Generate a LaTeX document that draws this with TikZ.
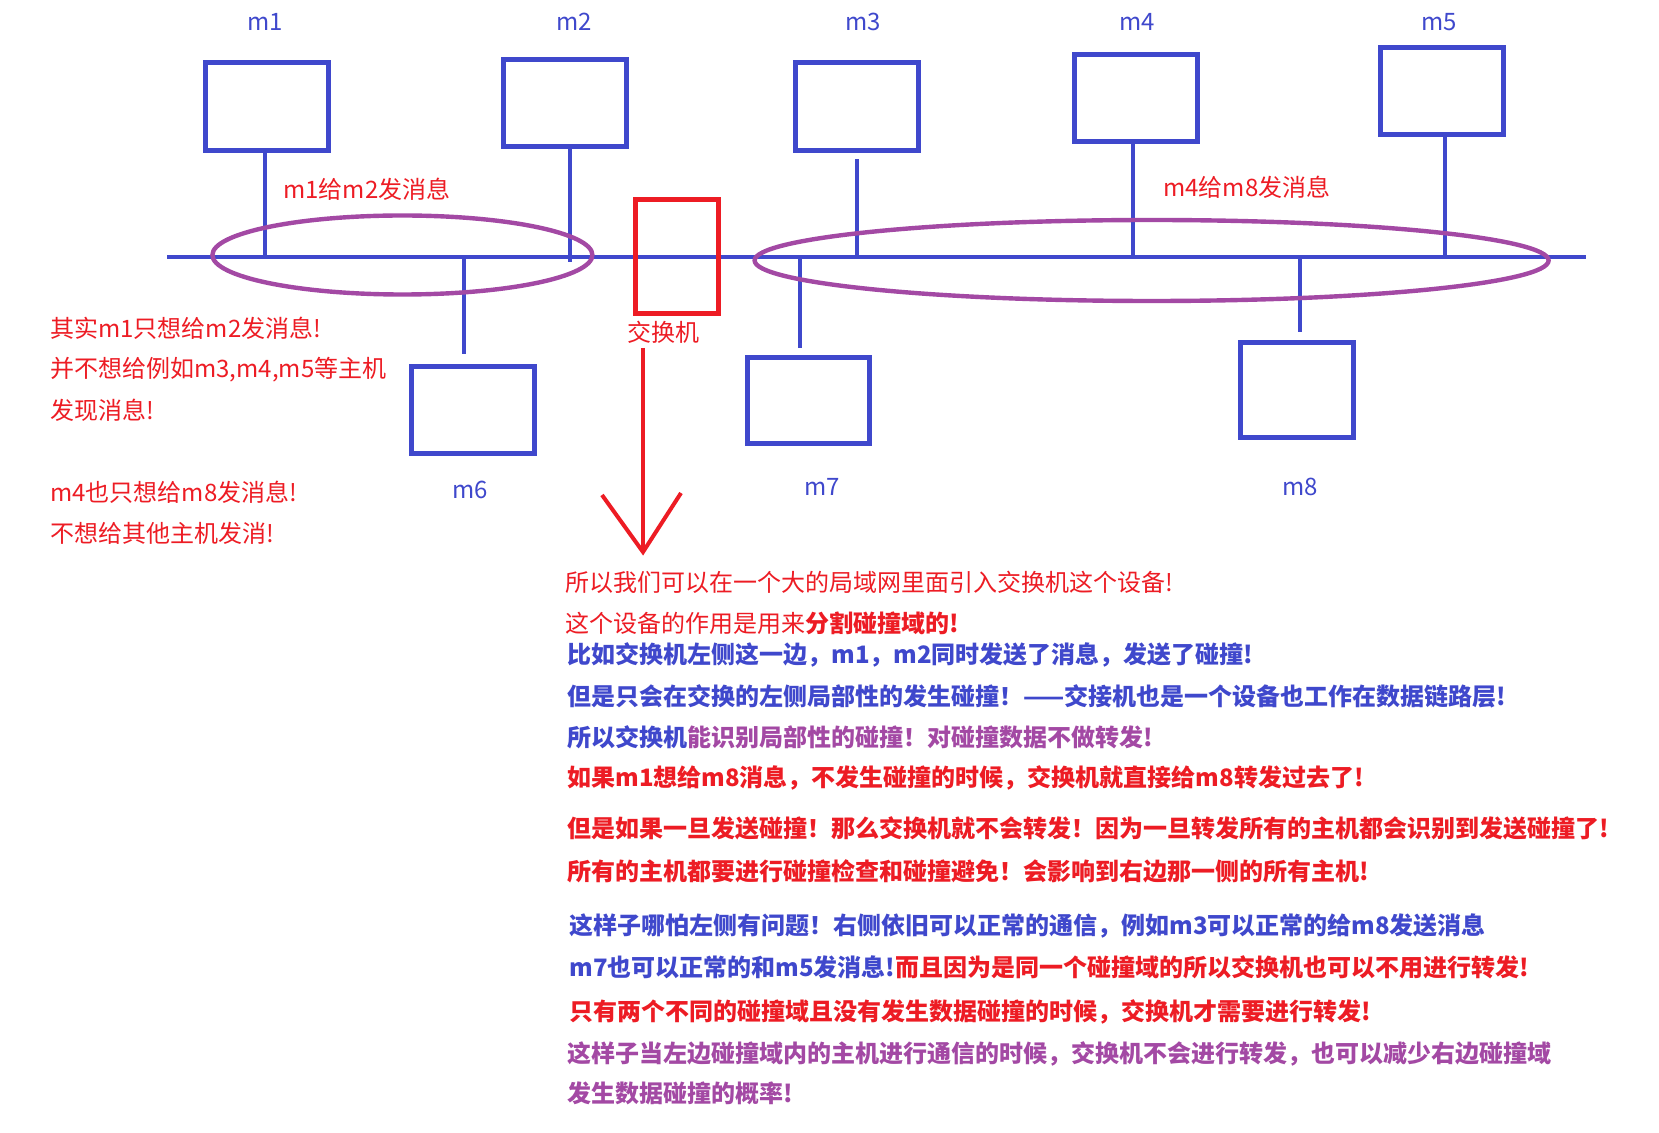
\documentclass[tikz,border=0pt]{standalone}
\usepackage{fontspec}
\setmainfont{Noto Sans CJK SC}
\usetikzlibrary{calc}
\definecolor{pblue}{HTML}{3F48CC}
\definecolor{pred}{HTML}{ED1C24}
\definecolor{ppurple}{HTML}{A349A4}
\begin{document}
\begin{tikzpicture}[x=0.5pt,y=-0.5pt,
  host/.style={draw=pblue,line width=2.5pt,minimum width=61.5pt,minimum height=44pt,inner sep=0pt},
  wire/.style={pblue,line width=2pt},
  busline/.style={pblue,line width=2.35pt},
  dom/.style={ppurple,line width=2.2pt},
  txt/.style={inner sep=0pt,font=\fontsize{12}{14.4}\selectfont,text height=10.6pt,text depth=1.4pt},
  lbl/.style={txt,text=pblue},
  tline/.style={txt,anchor=west},
  bline/.style={txt,anchor=west,font=\fontsize{12}{14.4}\selectfont\bfseries}]
\useasboundingbox (0,0) rectangle (1659,1133);
\fill[white] (0,0) rectangle (1659,1133);

% bus
\coordinate (busL) at (167,257);
\coordinate (busR) at (1586,257);
\draw[busline] (busL) -- (busR);

% hosts
\node[host] (m1) at (267,106.8) {};
\node[host,minimum height=43.5pt] (m2) at (565,103.5) {};
\node[host] (m3) at (857,106.8) {};
\node[host,minimum height=43.5pt] (m4) at (1136.3,98) {};
\node[host,minimum height=43.7pt] (m5) at (1442,90.8) {};
\node[host,minimum height=43.5pt] (m6) at (473,410) {};
\node[host,minimum width=61pt,minimum height=43pt] (m7) at (808.5,400.5) {};
\node[host,minimum width=56.5pt,minimum height=47.5pt] (m8) at (1297,390) {};

% stems
\coordinate (s1) at ($(m1.south)+(-2,0)$);
\coordinate (s2) at ($(m2.south)+(5,0)$);
\coordinate (s3) at ($(m3.south)+(0,6)$);
\coordinate (s4) at ($(m4.south)+(-3.3,0)$);
\coordinate (s5) at ($(m5.south)+(3,0)$);
\coordinate (s6) at ($(m6.north)+(-9,-9.5)$);
\coordinate (s7) at ($(m7.north)+(-8.5,-6.5)$);
\coordinate (s8) at ($(m8.north)+(3,-7.5)$);
\draw[wire] (s1) -- (s1 |- busL);
\draw[wire] (s2) -- ($(s2 |- busL)+(0,5)$);
\draw[wire] (s3) -- (s3 |- busL);
\draw[wire] (s4) -- (s4 |- busL);
\draw[wire] (s5) -- (s5 |- busL);
\draw[wire] (s6 |- busL) -- (s6);
\draw[wire] (s7 |- busL) -- (s7);
\draw[wire] (s8 |- busL) -- (s8);

% switch
\node[draw=pred,line width=2.4pt,minimum width=41.5pt,minimum height=57pt,inner sep=0pt] (sw) at (677,256.5) {};
\node[txt,text=pred] (swl) at (663,332) {交换机};
\coordinate (a0) at (643,348);
\coordinate (a1) at (643,552);
\draw[pred,line width=2pt] (a0) -- (a1);
\draw[pred,line width=2pt,line join=miter] ($(a1)+(-41,-57)$) -- (a1) -- ($(a1)+(38,-59)$);

% collision domains
\draw[dom] (402.4,255) ellipse [x radius=95pt, y radius=19.75pt];
\draw[dom] (1151.6,260.5) ellipse [x radius=198.5pt, y radius=20.25pt];

% host labels
\node[lbl] (l1) at (265,21) {m1};
\node[lbl] (l2) at (574,21) {m2};
\node[lbl] (l3) at (863,21) {m3};
\node[lbl] (l4) at (1137,21) {m4};
\node[lbl] (l5) at (1439,21) {m5};
\node[lbl] (l6) at (470,489) {m6};
\node[lbl] (l7) at (822,486) {m7};
\node[lbl] (l8) at (1300,486) {m8};

% messages
\node[tline,text=pred] (msg1) at (283,189) {m1给m2发消息};
\node[tline,text=pred] (msg2) at (1163,187) {m4给m8发消息};

% left notes
\node[tline,text=pred] (n1) at (50,328) {其实m1只想给m2发消息!};
\node[tline,text=pred] (n2) at (50,368.6) {并不想给例如m3,m4,m5等主机};
\node[tline,text=pred] (n3) at (50,410) {发现消息!};
\node[tline,text=pred] (n4) at (50,492) {m4也只想给m8发消息!};
\node[tline,text=pred] (n5) at (50,533) {不想给其他主机发消!};

% bottom block
\node[tline,text=pred] (b1) at (565,582) {所以我们可以在一个大的局域网里面引入交换机这个设备!};
\node[tline,text=pred] (b2) at (565,623) {这个设备的作用是用来\textbf{分割碰撞域的!}};
\node[bline,text=pblue] (b3) at (567,654) {比如交换机左侧这一边，m1，m2同时发送了消息，发送了碰撞!};
\node[bline,text=pblue] (b4) at (567,696) {但是只会在交换的左侧局部性的发生碰撞！——交接机也是一个设备也工作在数据链路层!};
\node[bline,text=ppurple] (b5) at (567,737) {\textcolor{pblue}{所以交换机}能识别局部性的碰撞！对碰撞数据不做转发!};
\node[bline,text=pred] (b6) at (567,777) {如果m1想给m8消息，不发生碰撞的时候，交换机就直接给m8转发过去了!};
\node[bline,text=pred] (b7) at (567,828) {但是如果一旦发送碰撞！那么交换机就不会转发！因为一旦转发所有的主机都会识别到发送碰撞了!};
\node[bline,text=pred] (b8) at (567,871) {所有的主机都要进行碰撞检查和碰撞避免！会影响到右边那一侧的所有主机!};
\node[bline,text=pblue] (b9) at (569,925) {这样子哪怕左侧有问题！右侧依旧可以正常的通信，例如m3可以正常的给m8发送消息};
\node[bline,text=pblue] (b10) at (569,967) {m7也可以正常的和m5发消息!\textcolor{pred}{而且因为是同一个碰撞域的所以交换机也可以不用进行转发!}};
\node[bline,text=pred] (b11) at (569,1011) {只有两个不同的碰撞域且没有发生数据碰撞的时候，交换机才需要进行转发!};
\node[bline,text=ppurple] (b12) at (567,1053) {这样子当左边碰撞域内的主机进行通信的时候，交换机不会进行转发，也可以减少右边碰撞域};
\node[bline,text=ppurple] (b13) at (567,1093) {发生数据碰撞的概率!};
\end{tikzpicture}
\end{document}
